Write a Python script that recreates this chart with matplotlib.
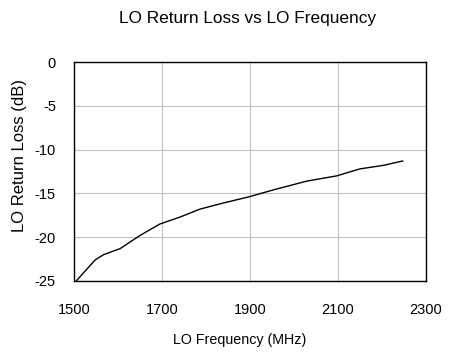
import numpy as np
import matplotlib.pyplot as plt

plt.rcParams['font.family'] = ['Liberation Sans', 'DejaVu Sans']
plt.rcParams['axes.unicode_minus'] = False

freq = [1505, 1530, 1548, 1567, 1605, 1650, 1695, 1741, 1786, 1839, 1897,
        1953, 2029, 2097, 2150, 2203, 2247]
ret_loss = [-25.0, -23.6, -22.6, -22.0, -21.3, -19.8, -18.5, -17.7, -16.8, -16.1, -15.4,
            -14.6, -13.6, -13.0, -12.2, -11.8, -11.3]

W, H = 455, 354
fig = plt.figure(figsize=(W/100, H/100), dpi=100)
ax = fig.add_axes([74/W, 1-281/H, 352/W, 219/H])
ax.plot(freq, ret_loss, color='black', linewidth=1.0)
ax.set_xlim(1500, 2300)
ax.set_ylim(-25, 0)
ax.set_xticks([1500, 1700, 1900, 2100, 2300])
ax.set_yticks([0, -5, -10, -15, -20, -25])
ax.grid(True, color='#c0c0c0', linewidth=0.8)
ax.set_axisbelow(True)
ax.tick_params(length=0, labelsize=10.5)
ax.tick_params(axis='x', pad=16)
ax.tick_params(axis='y', pad=13)
for s in ax.spines.values():
    s.set_linewidth(1.0)
# axis labels and title placed like the original
fig.text(240/W, 1-340/H, "LO Frequency (MHz)", ha='center', va='center', fontsize=10.3)
fig.text(20/W, 1-155/H, "LO Return Loss (dB)", ha='center', va='center', rotation=90, fontsize=12)
fig.text(248/W, 1-19/H, "LO Return Loss vs LO Frequency", ha='center', va='center', fontsize=12.4)
fig.savefig("out.png", dpi=100)
